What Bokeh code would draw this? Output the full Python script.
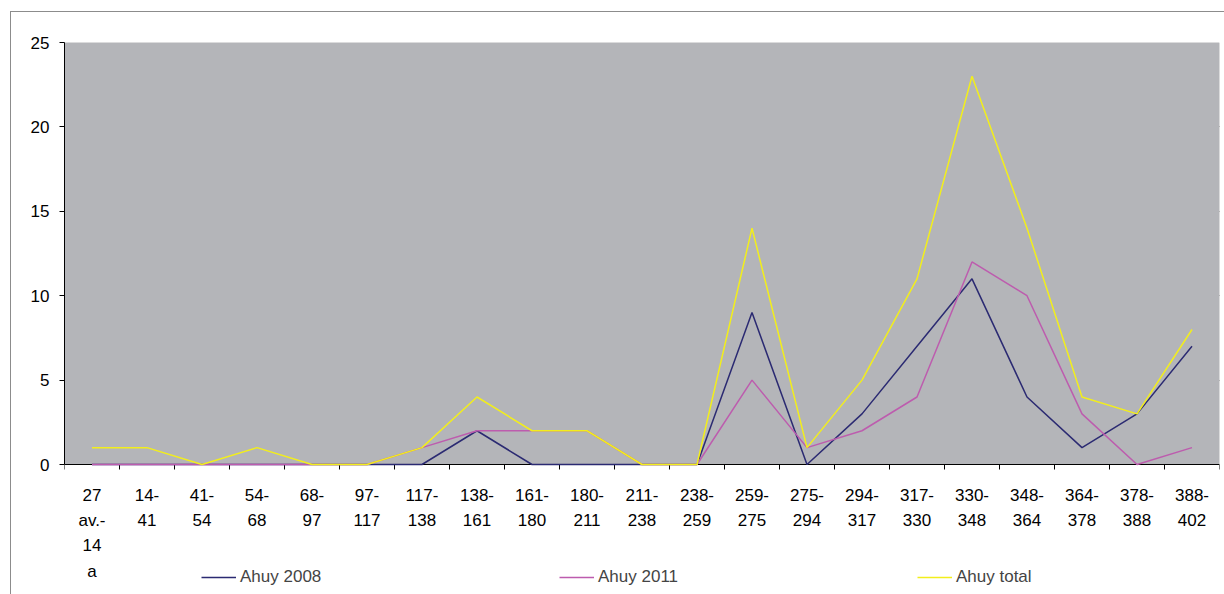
from bokeh.plotting import figure
from bokeh.models import Range1d, FixedTicker, Legend, LegendItem, BoxAnnotation
from bokeh.embed import file_html
from bokeh.resources import INLINE

categories = ["27\nav.-\n14\na", "14-\n41", "41-\n54", "54-\n68", "68-\n97", "97-\n117",
              "117-\n138", "138-\n161", "161-\n180", "180-\n211", "211-\n238", "238-\n259",
              "259-\n275", "275-\n294", "294-\n317", "317-\n330", "330-\n348", "348-\n364",
              "364-\n378", "378-\n388", "388-\n402"]
ahuy_2008 = [0, 0, 0, 0, 0, 0, 0, 2, 0, 0, 0, 0, 9, 0, 3, 7, 11, 4, 1, 3, 7]
ahuy_2011 = [0, 0, 0, 0, 0, 0, 1, 2, 2, 2, 0, 0, 5, 1, 2, 4, 12, 10, 3, 0, 1]
ahuy_total = [1, 1, 0, 1, 0, 0, 1, 4, 2, 2, 0, 0, 14, 1, 5, 11, 23, 14, 4, 3, 8]
series_names = ["Ahuy 2008", "Ahuy 2011", "Ahuy total"]
y_ticks = [0, 5, 10, 15, 20, 25]

n = len(categories)
xs = [i + 0.5 for i in range(n)]
Y_MAX = 25
Y_LOW = -7.76  # room below the zero line for category labels and legend

FONT = "Liberation Sans"

p = figure(width=1214, height=583, output_backend="svg", toolbar_location=None,
           x_range=Range1d(0, n), y_range=Range1d(Y_LOW, Y_MAX),
           min_border_left=53, min_border_right=6, min_border_top=30, min_border_bottom=0)
p.background_fill_color = "white"
p.border_fill_color = "white"
p.outline_line_color = None
p.styles = {"border-left": "1px solid #8c8c8c", "border-top": "1px solid #8c8c8c",
            "margin-left": "10px", "margin-top": "11px"}

# grey plot area from 0 to the top of the value axis
p.add_layout(BoxAnnotation(bottom=0, top=Y_MAX, fill_color="#b4b5b9", fill_alpha=1,
                           line_color="#808080", line_width=1, level="underlay"))

# x axis drawn at y = 0: labels at category centers, tick marks at boundaries
p.xaxis.fixed_location = 0
p.xaxis.ticker = FixedTicker(ticks=xs, minor_ticks=list(range(n + 1)))
p.xaxis.major_label_overrides = {x: c for x, c in zip(xs, categories)}
p.xaxis.major_tick_out = 0
p.xaxis.major_tick_in = 0
p.xaxis.minor_tick_out = 5
p.xaxis.minor_tick_in = 0
p.xaxis.minor_tick_line_color = "black"
p.xaxis.axis_line_color = "black"
p.xaxis.major_label_text_font = FONT
p.xaxis.major_label_text_font_size = "17px"
p.xaxis.major_label_text_color = "black"
p.xaxis.major_label_text_line_height = 1.34
p.xaxis.major_label_standoff = 16
p.xaxis.major_label_orientation = "horizontal"

p.yaxis.ticker = FixedTicker(ticks=y_ticks)
p.yaxis.bounds = (0, Y_MAX)
p.yaxis.major_tick_out = 5
p.yaxis.major_tick_in = 0
p.yaxis.minor_tick_line_color = None
p.yaxis.axis_line_color = "black"
p.yaxis.major_label_text_font = FONT
p.yaxis.major_label_text_font_size = "17px"
p.yaxis.major_label_text_color = "black"
p.yaxis.major_label_standoff = 10

p.xgrid.visible = False
p.ygrid.ticker = FixedTicker(ticks=[5, 10, 15, 20])
p.ygrid.grid_line_color = "black"
p.ygrid.grid_line_width = 1

r1 = p.line(xs, ahuy_2008, line_color="#2b2a72", line_width=1.5, level="overlay")
r2 = p.line(xs, ahuy_2011, line_color="#bd5cae", line_width=1.5, level="overlay")
r3 = p.line(xs, ahuy_total, line_color="#f2ee1c", line_width=1.5, level="overlay")

legend = Legend(items=[LegendItem(label=series_names[0], renderers=[r1]),
                       LegendItem(label=series_names[1], renderers=[r2]),
                       LegendItem(label=series_names[2], renderers=[r3])],
                orientation="horizontal", location=(137, 8),
                glyph_width=35, glyph_height=16, label_standoff=4,
                label_width=126, spacing=193, padding=0, margin=0,
                label_text_font=FONT, label_text_font_size="17px",
                border_line_color=None, background_fill_alpha=0)
p.add_layout(legend, "center")

open("out.html", "w").write(file_html(p, INLINE))
